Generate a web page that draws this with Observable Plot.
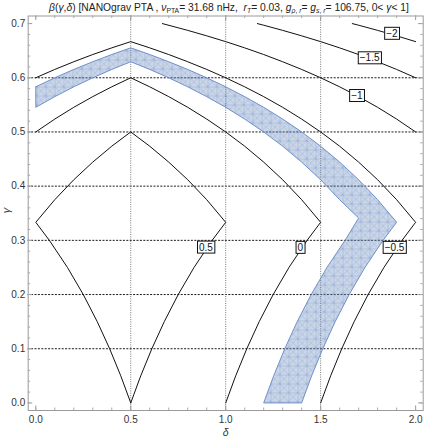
<!DOCTYPE html>
<html><head><meta charset="utf-8">
<script src="https://cdn.jsdelivr.net/npm/d3@7"></script>
<script src="https://cdn.jsdelivr.net/npm/@observablehq/plot@0.6"></script>
<style>
body{margin:0;background:#fff;font-family:"Liberation Sans",Arial,sans-serif;}
#title{position:absolute;left:0;top:1px;width:424px;height:14px;line-height:14px;font-size:10.3px;color:#222;white-space:nowrap;text-align:center;}
#title .in{position:relative;left:17px;}
#title sub{font-size:6.8px;vertical-align:-2px;line-height:0;}
#chart{position:absolute;left:0;top:14px;}
</style></head><body>
<div id="title"><span class="in"><i>β</i>(<i>γ</i>,<i>δ</i>) [NANOgrav PTA , <i>ν</i><sub>PTA</sub>= 31.68 nHz,&nbsp; <i>r</i><sub><i>T</i></sub>= 0.03, <i>g</i><sub><i>ρ</i>, <i>r</i></sub>= <i>g</i><sub><i>s</i>, <i>r</i></sub>= 106.75, 0&lt; <i>γ</i>&lt; 1]</span></div>
<div id="chart"></div>
<script>
// ---- data: [delta, gamma] points ----
const contour05 = [[0.5,0],[0.4474,0.05],[0.3889,0.1],[0.3235,0.15],[0.25,0.2],[0.1667,0.25],[0.0714,0.3],[0,0.3333],[0.1,0.375],[0.2,0.4118],[0.3,0.4444],[0.4,0.4737],[0.5,0.5],[0.6,0.4737],[0.7,0.4444],[0.8,0.4118],[0.9,0.375],[1.0,0.3333],[0.9286,0.3],[0.8333,0.25],[0.75,0.2],[0.6765,0.15],[0.6111,0.1],[0.5526,0.05],[0.5,0]];
const contour0 = [[0,0.5],[0.1,0.5238],[0.2,0.5455],[0.3,0.5652],[0.4,0.5833],[0.5,0.6],[0.6,0.5833],[0.7,0.5652],[0.8,0.5455],[0.9,0.5238],[1.0,0.5],[1.1,0.4737],[1.2,0.4444],[1.3,0.4118],[1.4,0.375],[1.5,0.3333],[1.4286,0.3],[1.3333,0.25],[1.25,0.2],[1.1765,0.15],[1.1111,0.1],[1.0526,0.05],[1.0,0]];
const contourM05 = [[0,0.6],[0.1,0.6154],[0.2,0.6296],[0.3,0.6429],[0.4,0.6552],[0.5,0.6667],[0.6,0.6552],[0.7,0.6429],[0.8,0.6296],[0.9,0.6154],[1.0,0.6],[1.1,0.5833],[1.2,0.5652],[1.3,0.5455],[1.4,0.5238],[1.5,0.5],[1.6,0.4737],[1.7,0.4444],[1.8,0.4118],[1.9,0.375],[2.0,0.3333],[1.9286,0.3],[1.8333,0.25],[1.75,0.2],[1.6765,0.15],[1.6111,0.1],[1.5526,0.05],[1.5,0]];
const contourM1 = [[0.6667,0.7],[0.8,0.6875],[0.9,0.6774],[1.0,0.6667],[1.1,0.6552],[1.2,0.6429],[1.3,0.6296],[1.4,0.6154],[1.5,0.6],[1.6,0.5833],[1.7,0.5652],[1.8,0.5455],[1.9,0.5238],[2.0,0.5]];
const contourM15 = [[1.1667,0.7],[1.2,0.697],[1.3,0.6875],[1.4,0.6774],[1.5,0.6667],[1.6,0.6552],[1.7,0.6429],[1.8,0.6296],[1.9,0.6154],[2.0,0.6]];
const contourM2 = [[1.6667,0.7],[1.7,0.697],[1.8,0.6875],[1.9,0.6774],[2.0,0.6667]];
const bandOuter = [[0,0.5833],[0.1,0.6],[0.2,0.6154],[0.3,0.6296],[0.4,0.6429],[0.5,0.6552],[0.6,0.6429],[0.7,0.6296],[0.8,0.6154],[0.9,0.6],[1.0,0.5833],[1.1,0.5652],[1.2,0.5455],[1.3,0.5238],[1.4,0.5],[1.5,0.4737],[1.6,0.4444],[1.7,0.4118],[1.8,0.375],[1.9,0.3333],[1.8286,0.3],[1.7333,0.25],[1.65,0.2],[1.5765,0.15],[1.5111,0.1],[1.4526,0.05],[1.4,0]];
const bandInner = [[0,0.5455],[0.1,0.5652],[0.2,0.5833],[0.3,0.6],[0.4,0.6154],[0.5,0.6296],[0.6,0.6154],[0.7,0.6],[0.8,0.5833],[0.9,0.5652],[1.0,0.5455],[1.1,0.5238],[1.2,0.5],[1.3,0.4737],[1.4,0.4444],[1.5,0.4118],[1.6,0.375],[1.7,0.3411],[1.6286,0.3],[1.5333,0.25],[1.45,0.2],[1.3765,0.15],[1.3111,0.1],[1.2526,0.05],[1.2,0]];
const labelText = ["0.5","0","\u22120.5","\u22121","\u22121.5","\u22122"];
const labelX = [0.896,1.393,1.889,1.6905,1.758,1.875];
const labelY = [0.287,0.2865,0.2865,0.5667,0.6363,0.6815];
const xTicks = [0,0.5,1,1.5,2];
const yTicks = [0,0.1,0.2,0.3,0.4,0.5,0.6,0.7];
const hGrid = [0.1,0.2,0.3,0.4,0.5,0.6];
const vGrid = [0.5,1,1.5];
const xMinor = d3.range(0,2.001,0.1).map(v=>+v.toFixed(2));
const yMinor = d3.range(0,0.701,0.02).map(v=>+v.toFixed(2));

// ---- build tables ----
const contours = {"0.5":contour05,"0":contour0,"-0.5":contourM05,"-1":contourM1,"-1.5":contourM15,"-2":contourM2};
const lineRows = [];
for (const [k, pts] of Object.entries(contours)) for (const [d,g] of pts) lineRows.push({c:k, d, g});
const bandPoly = [...bandOuter, ...bandInner.slice().reverse(), bandOuter[0]].map(([d,g])=>({d,g}));
const labels = labelText.map((t,i)=>({t, d:labelX[i], g:labelY[i]}));

const W = 424, H = 422, mL = 27.7, mR = 1.3, mT = 1.5, mB = 26;
const PW = W - mL - mR, PH = H - mT - mB;

const chart = Plot.plot({
  width: W, height: H,
  marginLeft: mL, marginRight: mR, marginTop: mT, marginBottom: mB,
  style: {fontFamily: '"Liberation Sans", Arial, sans-serif', background: "#fff", color: "#333"},
  x: {domain: [-0.04, 2.04]},
  y: {domain: [-0.014, 0.714]},
  marks: [
    Plot.ruleY(hGrid, {stroke: "#000", strokeWidth: 0.9, strokeDasharray: "2,1.4"}),
    Plot.ruleX(vGrid, {stroke: "#777", strokeWidth: 1, strokeDasharray: "1,1.3"}),
    Plot.line(bandPoly, {x: "d", y: "g", fill: "url(#mesh)", stroke: "#6f90cc", strokeWidth: 1, curve: "linear"}),
    Plot.line(lineRows, {x: "d", y: "g", z: "c", stroke: "#111", strokeWidth: 1, curve: "linear"}),
    Plot.text(labels, {x: "d", y: "g", text: "t", fontSize: 10, fill: "#111"}),
    Plot.frame({stroke: "#9a9a9a"}),
    // inward frame ticks
    Plot.tickX(xTicks, {x: d=>d, insetTop: PH - 4.5, stroke: "#999"}),
    Plot.tickX(xMinor, {x: d=>d, insetTop: PH - 2.5, stroke: "#aaa"}),
    Plot.tickX(xTicks, {x: d=>d, insetBottom: PH - 4.5, stroke: "#999"}),
    Plot.tickX(xMinor, {x: d=>d, insetBottom: PH - 2.5, stroke: "#aaa"}),
    Plot.tickY(yTicks, {y: d=>d, insetRight: PW - 4.5, stroke: "#999"}),
    Plot.tickY(yMinor, {y: d=>d, insetRight: PW - 2.5, stroke: "#aaa"}),
    Plot.tickY(yTicks, {y: d=>d, insetLeft: PW - 4.5, stroke: "#999"}),
    Plot.tickY(yMinor, {y: d=>d, insetLeft: PW - 2.5, stroke: "#aaa"}),
    Plot.axisX(xTicks, {tickSize: 0, tickPadding: 5, tickFormat: d=>d.toFixed(1), fontSize: 10, label: null}),
    Plot.axisY(yTicks, {tickSize: 0, tickPadding: 3, tickFormat: d=>d.toFixed(1), fontSize: 10, label: null}),
    Plot.text(["γ"], {frameAnchor: "left", dx: -22, rotate: -90, fontStyle: "italic", fontSize: 11, fill: "#333"}),
    Plot.text(["δ"], {frameAnchor: "bottom", lineAnchor: "bottom", dy: 25, fontStyle: "italic", fontSize: 10.5, fill: "#333"})
  ]
});
document.getElementById("chart").appendChild(chart);

// pattern for the shaded region (Mathematica-like mesh)
const svg = d3.select(chart);
const defs = svg.insert("defs", ":first-child");
const pat = defs.append("pattern").attr("id", "mesh").attr("patternUnits", "userSpaceOnUse")
  .attr("width", 9).attr("height", 9);
pat.append("rect").attr("width", 9).attr("height", 9).attr("fill", "#5e81b5").attr("fill-opacity", 0.32);
pat.append("path").attr("d", "M0,0.5H9M0.5,0V9M0,0L9,9M9,0L0,9")
  .attr("stroke", "#6f90cc").attr("stroke-width", 0.6).attr("stroke-opacity", 0.5).attr("fill", "none");

// white boxes behind the contour labels: find the group whose texts are exactly the labels
chart.querySelectorAll("g").forEach(g => {
  const texts = Array.from(g.children).filter(e => e.tagName.toLowerCase() === "text");
  if (texts.length !== labelText.length) return;
  if (!texts.every((t, i) => t.textContent === labelText[i])) return;
  texts.forEach(t => {
    const b = t.getBBox();
    const r = document.createElementNS("http://www.w3.org/2000/svg", "rect");
    r.setAttribute("x", b.x - 1.5); r.setAttribute("y", b.y - 0.5);
    r.setAttribute("width", b.width + 3); r.setAttribute("height", b.height + 1);
    r.setAttribute("fill", "#fff"); r.setAttribute("stroke", "#111"); r.setAttribute("stroke-width", 1);
    const tr = t.getAttribute("transform");
    if (tr) r.setAttribute("transform", tr);
    g.insertBefore(r, t);
  });
});
</script>
</body></html>
